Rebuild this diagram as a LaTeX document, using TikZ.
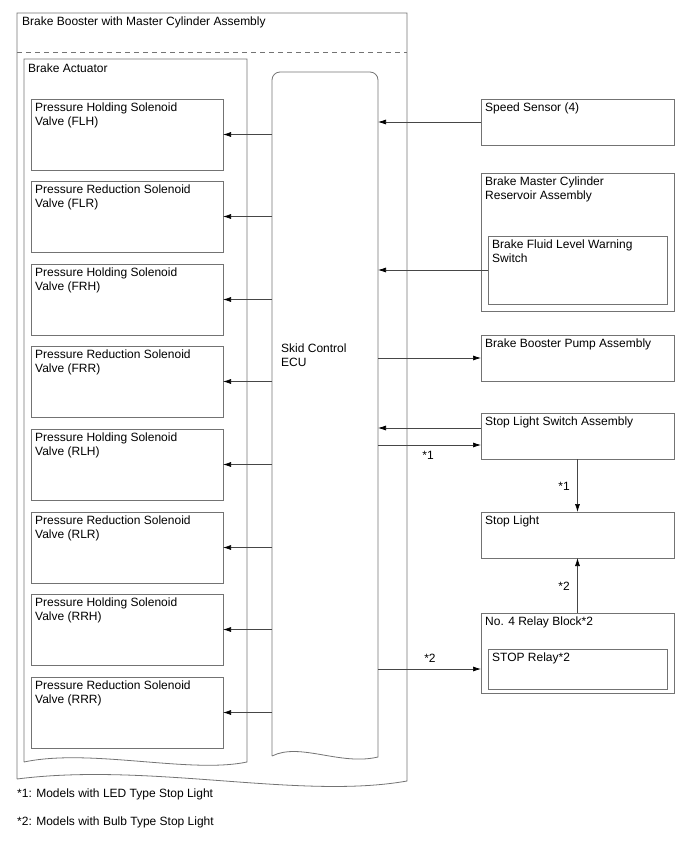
\documentclass[tikz,border=0pt]{standalone}
\usepackage{fontspec}
\setmainfont{Liberation Sans}
\usetikzlibrary{arrows.meta}
\definecolor{boxc}{RGB}{115,115,115}
\definecolor{arrc}{RGB}{70,70,70}
\begin{document}
\begin{tikzpicture}[x=1pt,y=-1pt,
  font=\fontsize{12}{13.5}\selectfont,
  box/.style={draw=boxc, line width=0.8pt, anchor=north west, inner sep=0pt, outer sep=0pt},
  tl/.style={label={[anchor=north west, inner sep=4pt, align=left]north west:#1}},
  arr/.style={draw=arrc, line width=0.7pt, -{Latex[length=8pt,width=5pt,black]}},
  outline/.style={draw=boxc, line width=0.8pt},
  txt/.style={inner sep=0pt, anchor=west}]
\useasboundingbox (0,0) rectangle (688,852);

% outer assembly
\draw[outline] (17,779) -- (17,13) -- (407,13) -- (407,781)
  .. controls (300,800) and (150,762) .. (17,779);
\node[txt, anchor=north west] (asm) at (22,17) {Brake Booster with Master Cylinder Assembly};
\draw[boxc, line width=0.8pt, dash pattern=on 5pt off 4pt] (17,52) -- (407,52);

% brake actuator
\draw[outline] (24,762) -- (24,59) -- (247,59) -- (247,762)
  .. controls (190,774) and (90,748) .. (24,762);
\node[txt, anchor=north west] (act) at (28,64) {Brake Actuator};

% ECU
\draw[outline] (272,756) -- (272,100) [rounded corners=8pt] -- (272,72) -- (378,72) -- (378,100)
  [sharp corners] -- (378,757) .. controls (340,766) and (300,742) .. (272,756);
\node[txt, anchor=north west, align=left] (ecu) at (281,344) {Skid Control\\ECU};
\coordinate (ecuL) at (272,400);
\coordinate (ecuR) at (378,400);

% valves
\node[box, minimum width=192, minimum height=71, tl={Pressure Holding Solenoid\\Valve (FLH)}] (v1) at (31,99) {};
\node[box, minimum width=192, minimum height=71, tl={Pressure Reduction Solenoid\\Valve (FLR)}] (v2) at (31,181) {};
\node[box, minimum width=192, minimum height=71, tl={Pressure Holding Solenoid\\Valve (FRH)}] (v3) at (31,264) {};
\node[box, minimum width=192, minimum height=71, tl={Pressure Reduction Solenoid\\Valve (FRR)}] (v4) at (31,346) {};
\node[box, minimum width=192, minimum height=71, tl={Pressure Holding Solenoid\\Valve (RLH)}] (v5) at (31,429) {};
\node[box, minimum width=192, minimum height=71, tl={Pressure Reduction Solenoid\\Valve (RLR)}] (v6) at (31,512) {};
\node[box, minimum width=192, minimum height=71, tl={Pressure Holding Solenoid\\Valve (RRH)}] (v7) at (31,594) {};
\node[box, minimum width=192, minimum height=71, tl={Pressure Reduction Solenoid\\Valve (RRR)}] (v8) at (31,677) {};
\foreach \v in {v1,v2,v3,v4,v5,v6,v7,v8}
  \draw[arr] (\v.east -| ecuL) -- (\v.east);

% right side
\node[box, minimum width=193, minimum height=46, tl={Speed Sensor (4)}] (speed) at (481,99) {};
\node[box, minimum width=193, minimum height=138, tl={Brake Master Cylinder\\Reservoir Assembly}] (res) at (481,173) {};
\node[box, minimum width=179, minimum height=68, tl={Brake Fluid Level Warning\\Switch}] (fluid) at (488,236) {};
\node[box, minimum width=193, minimum height=46, tl={Brake Booster Pump Assembly}] (pump) at (481,335) {};
\node[box, minimum width=193, minimum height=46, tl={Stop Light Switch Assembly}] (sw) at (481,413) {};
\node[box, minimum width=193, minimum height=46, tl={Stop Light}] (stop) at (481,512) {};
\node[box, minimum width=193, minimum height=80, tl={No. 4 Relay Block*2}] (relay) at (481,613) {};
\node[box, minimum width=179, minimum height=40, tl={STOP Relay*2}] (srelay) at (488,649) {};

\draw[arr] (speed.west) -- (speed.west -| ecuR);
\draw[arr] (fluid.west) -- (fluid.west -| ecuR);
\draw[arr] (pump.west -| ecuR) -- (pump.west);
\coordinate (sw1) at ([yshift=8pt]sw.west);
\coordinate (sw2) at ([yshift=-9pt]sw.west);
\draw[arr] (sw1) -- (sw1 -| ecuR);
\draw[arr] (sw2 -| ecuR) -- (sw2);
\coordinate (rl) at (srelay.west -| relay.west);
\draw[arr] (rl -| ecuR) -- (rl);
\draw[arr] (sw.south) -- (stop.north);
\draw[arr] (relay.north) -- (stop.south);

\node[inner sep=0pt] (n1a) at (428,455) {*1};
\node[inner sep=0pt] (n1b) at (564,486) {*1};
\node[inner sep=0pt] (n2b) at (564,586) {*2};
\node[inner sep=0pt] (n2a) at (430,658) {*2};

\node[txt] (f1) at (17,794) {*1: Models with LED Type Stop Light};
\node[txt] (f2) at (17,822) {*2: Models with Bulb Type Stop Light};
\end{tikzpicture}
\end{document}
